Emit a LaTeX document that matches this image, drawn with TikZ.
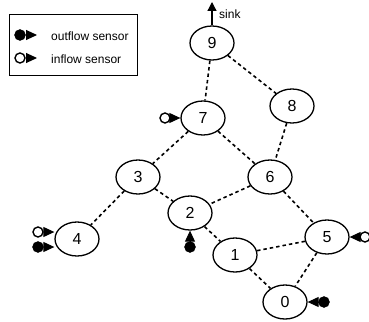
\documentclass[tikz,border=0pt]{standalone}
\usepackage{fontspec}
\setmainfont{Liberation Sans}
\usetikzlibrary{shapes.geometric, arrows.meta, positioning}

\tikzset{
  station/.style={
    ellipse, draw, line width=1.3pt,
    minimum width=44pt, minimum height=34pt, inner sep=0pt,
    font=\fontsize{16}{16}\selectfont
  },
  link/.style={line width=1.6pt, dash pattern=on 3.5pt off 3pt},
  outsensor/.style={circle, draw, fill, minimum size=11pt, inner sep=0pt},
  insensor/.style={circle, draw, line width=1.4pt, fill=white,
    minimum size=10pt, inner sep=0pt},
  sense/.style={-{Triangle[length=11pt,width=10pt]}, line width=1pt},
  smalltext/.style={font=\fontsize{12}{12}\selectfont, anchor=west, inner sep=1pt}
}

\begin{document}
\begin{tikzpicture}[x=1pt, y=-1pt]

\useasboundingbox (0,0) rectangle (369,321);

% --- legend -------------------------------------------------------
\node[draw, line width=1pt, anchor=north west,
      minimum width=128pt, minimum height=61pt] (legend) at (9,14) {};

\node[outsensor] (kout) at (20,35) {};
\coordinate (kouttip) at (37,35);
\node[smalltext] (kouttext) at (50,36) {outflow sensor};

\node[insensor] (kin) at (20,58) {};
\coordinate (kintip) at (37,58);
\node[smalltext] (kintext) at (50,59) {inflow sensor};

\draw[sense] (kout) -- (kouttip);
\draw[sense] (kin)  -- (kintip);

% --- stations -----------------------------------------------------
\node[station] (n9) at (212,43)  {9};
\node[station] (n8) at (292,106) {8};
\node[station] (n7) at (203,118) {7};
\node[station] (n3) at (138,177) {3};
\node[station] (n6) at (270,177) {6};
\node[station] (n2) at (190,213) {2};
\node[station] (n5) at (327,237) {5};
\node[station] (n4) at (77,239)  {4};
\node[station] (n1) at (235,255) {1};
\node[station] (n0) at (285,302) {0};

% --- links --------------------------------------------------------
\draw[link] (n9) -- (n7);
\draw[link] (n9) -- (n8);
\draw[link] (n7) -- (n3);
\draw[link] (n7) -- (n6);
\draw[link] (n8) -- (n6);
\draw[link] (n3) -- (n4);
\draw[link] (n3) -- (n2);
\draw[link] (n6) -- (n2);
\draw[link] (n6) -- (n5);
\draw[link] (n2) -- (n1);
\draw[link] (n1) -- (n5);
\draw[link] (n1) -- (n0);
\draw[link] (n5) -- (n0);

% --- sink ---------------------------------------------------------
\coordinate (sink) at (212,2);
\draw[-{Triangle[length=9pt,width=9pt]}, line width=1.3pt] (n9) -- (sink);
\node[smalltext] (sinklbl) at (218,14) {sink};

% --- sensors ------------------------------------------------------
\node[insensor]  (s7)    at (165,118) {};
\node[insensor]  (s4in)  at (38,232)  {};
\node[outsensor] (s4out) at (38,247)  {};
\node[outsensor] (s2)    at (190,247) {};
\node[insensor]  (s5)    at (365,237) {};
\node[outsensor] (s0)    at (324,302) {};

\draw[sense] (s7)    -- (n7);
\draw[sense] (s4in)  -- (s4in -| n4.west);
\draw[sense] (s4out) -- (s4out -| n4.west);
\draw[sense] (s2)    -- (n2);
\draw[sense] (s5)    -- (n5);
\draw[sense] (s0)    -- (n0);

\end{tikzpicture}
\end{document}
